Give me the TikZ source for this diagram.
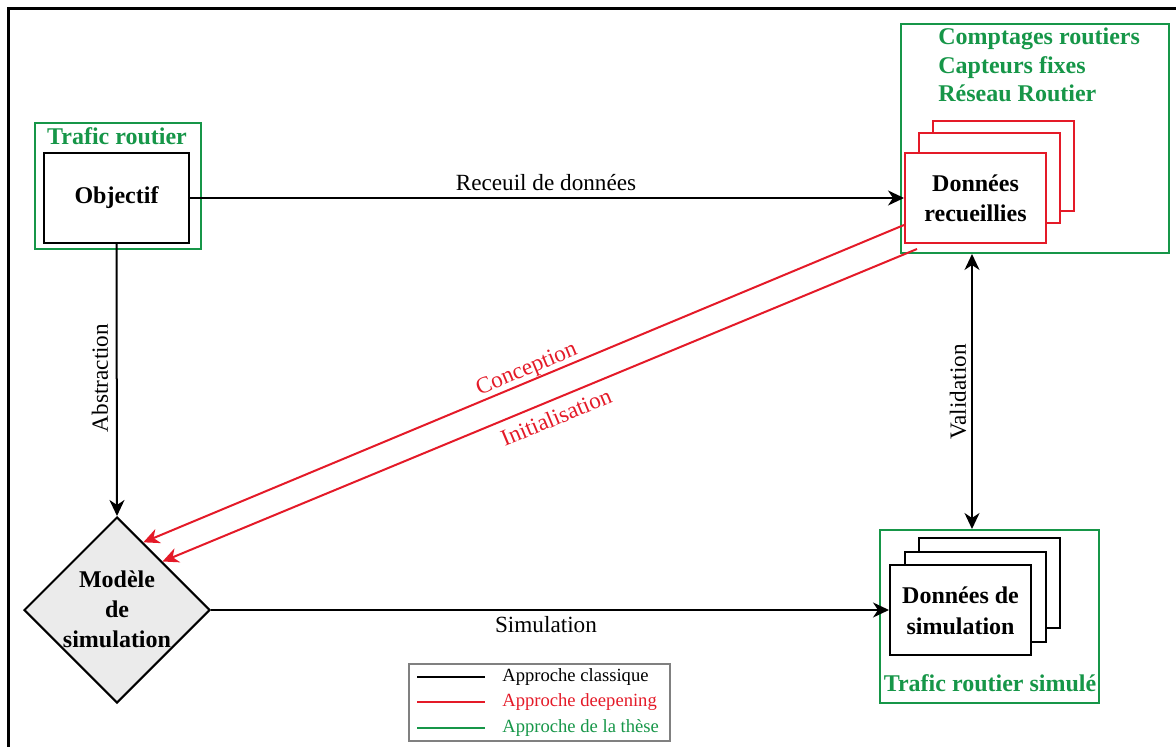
\documentclass[tikz,border=0pt]{standalone}
\usepackage{fontspec}
\setmainfont{Liberation Serif}
\usetikzlibrary{arrows.meta,shapes.geometric,calc}
\definecolor{tgreen}{RGB}{22,150,72}
\definecolor{tred}{RGB}{228,26,40}
\definecolor{dgray}{RGB}{235,235,235}
\definecolor{lgray}{RGB}{128,128,128}
\begin{document}
\begin{tikzpicture}[x=0.5pt,y=-0.5pt,
  >={Stealth[length=8pt,width=7.5pt,inset=2.5pt]},
  lbl/.style={font=\fontsize{11.6}{14}\selectfont},
  bld/.style={font=\fontsize{12}{14.6}\selectfont\bfseries},
  leg/.style={font=\fontsize{9.3}{11}\selectfont, anchor=west, inner sep=0pt},
  stackbox/.style={draw=black, line width=1pt, fill=white, inner sep=0pt, minimum width=70.5pt, minimum height=45pt},
  gbox/.style={draw=tgreen, line width=1pt, inner sep=0pt},
  arr/.style={line width=1pt, ->},
  rarr/.style={draw=tred, line width=1pt, ->},
]
\clip (0,0) rectangle (1176,747);
% outer frame
\draw[line width=1.5pt] (8,9) rectangle (1200,770);

% top-left group
\node[gbox, minimum width=83pt, minimum height=63pt] (g1) at (118,186) {};
\node[bld, text=tgreen] (g1t) at (117,136) {Trafic routier};
\node[stackbox, minimum width=72.5pt] (obj) at (116.5,198) {};
\node[bld] (objt) at (obj) {Objectif};

% top-right group
\node[gbox, minimum width=134pt, minimum height=114.5pt] (g2) at (1035,138.5) {};
\node[bld, text=tgreen, align=left, anchor=west, inner sep=0pt, font=\fontsize{12}{14.3}\selectfont\bfseries] (g2t) at (938,65) {Comptages routiers\\Capteurs fixes\\Réseau Routier};
\node[stackbox, draw=tred] (dr3) at (1003.5,166) {};
\node[stackbox, draw=tred] (dr2) at (989.5,178) {};
\node[stackbox, draw=tred] (dr) at (975.5,198) {};
\node[bld, align=center, font=\fontsize{12}{15}\selectfont\bfseries] (drt) at (dr) {Données\\recueillies};

% bottom-left diamond
\node[diamond, draw=black, line width=1pt, fill=dgray, inner sep=0pt, minimum width=93pt, minimum height=93pt] (md) at (117,610) {};
\node[bld, align=center, font=\fontsize{12}{15}\selectfont\bfseries] (mdt) at (117,609) {Modèle\\de\\simulation};

% bottom-right group
\node[gbox, minimum width=109.5pt, minimum height=86.5pt] (g3) at (989.5,616.5) {};
\node[stackbox] (ds3) at (989.5,583) {};
\node[stackbox] (ds2) at (975.5,597) {};
\node[stackbox] (ds) at (960.5,610) {};
\node[bld, align=center, font=\fontsize{12}{15.5}\selectfont\bfseries] (dst) at (960.5,611) {Données de\\simulation};
\node[bld, text=tgreen] (g3t) at (990,683) {Trafic routier simulé};

% black connectors
\draw[arr] (obj.east) -- (dr.west);
\node[lbl] (l1) at (546,183) {Receuil de données};
\draw[arr] (obj.south) -- (md.north);
\node[lbl, rotate=90] (l2) at (100,378) {Abstraction};
\draw[arr] (md.east) -- (ds.west);
\node[lbl] (l3) at (546,625) {Simulation};
\coordinate (vx) at (972,0);
\draw[line width=1pt, <->] (g2.south -| vx) -- (g3.north -| vx);
\node[lbl, rotate=90] (l4) at (958,392) {Validation};

% red connectors
\coordinate (r1s) at ($(dr.west)+(0,27)$);
\coordinate (r2s) at ($(dr.south west)+(13,5)$);
\draw[rarr] (r1s) -- ($(md.north)!0.28!(md.east)$);
\draw[rarr] (r2s) -- ($(md.north)!0.484!(md.east)$);
\node[lbl, text=tred, rotate=22.6, inner sep=1pt] (l5) at (527,370) {Conception};
\node[lbl, text=tred, rotate=22.6, inner sep=1pt] (l6) at (556,417) {Initialisation};

% legend
\node[draw=lgray, line width=0.75pt, minimum width=130.5pt, minimum height=38.5pt, inner sep=0pt] (leg) at (539.5,702.5) {};
\coordinate (la1) at (417,677); \coordinate (lb1) at (485,677);
\coordinate (la2) at (417,702); \coordinate (lb2) at (485,702);
\coordinate (la3) at (417,728); \coordinate (lb3) at (485,728);
\draw[line width=1pt] (la1) -- (lb1);
\draw[line width=1pt, tred] (la2) -- (lb2);
\draw[line width=1pt, tgreen] (la3) -- (lb3);
\node[leg] (lt1) at (502,677) {Approche classique};
\node[leg, text=tred] (lt2) at (502,702) {Approche deepening};
\node[leg, text=tgreen] (lt3) at (502,728) {Approche de la thèse};
\end{tikzpicture}
\end{document}
